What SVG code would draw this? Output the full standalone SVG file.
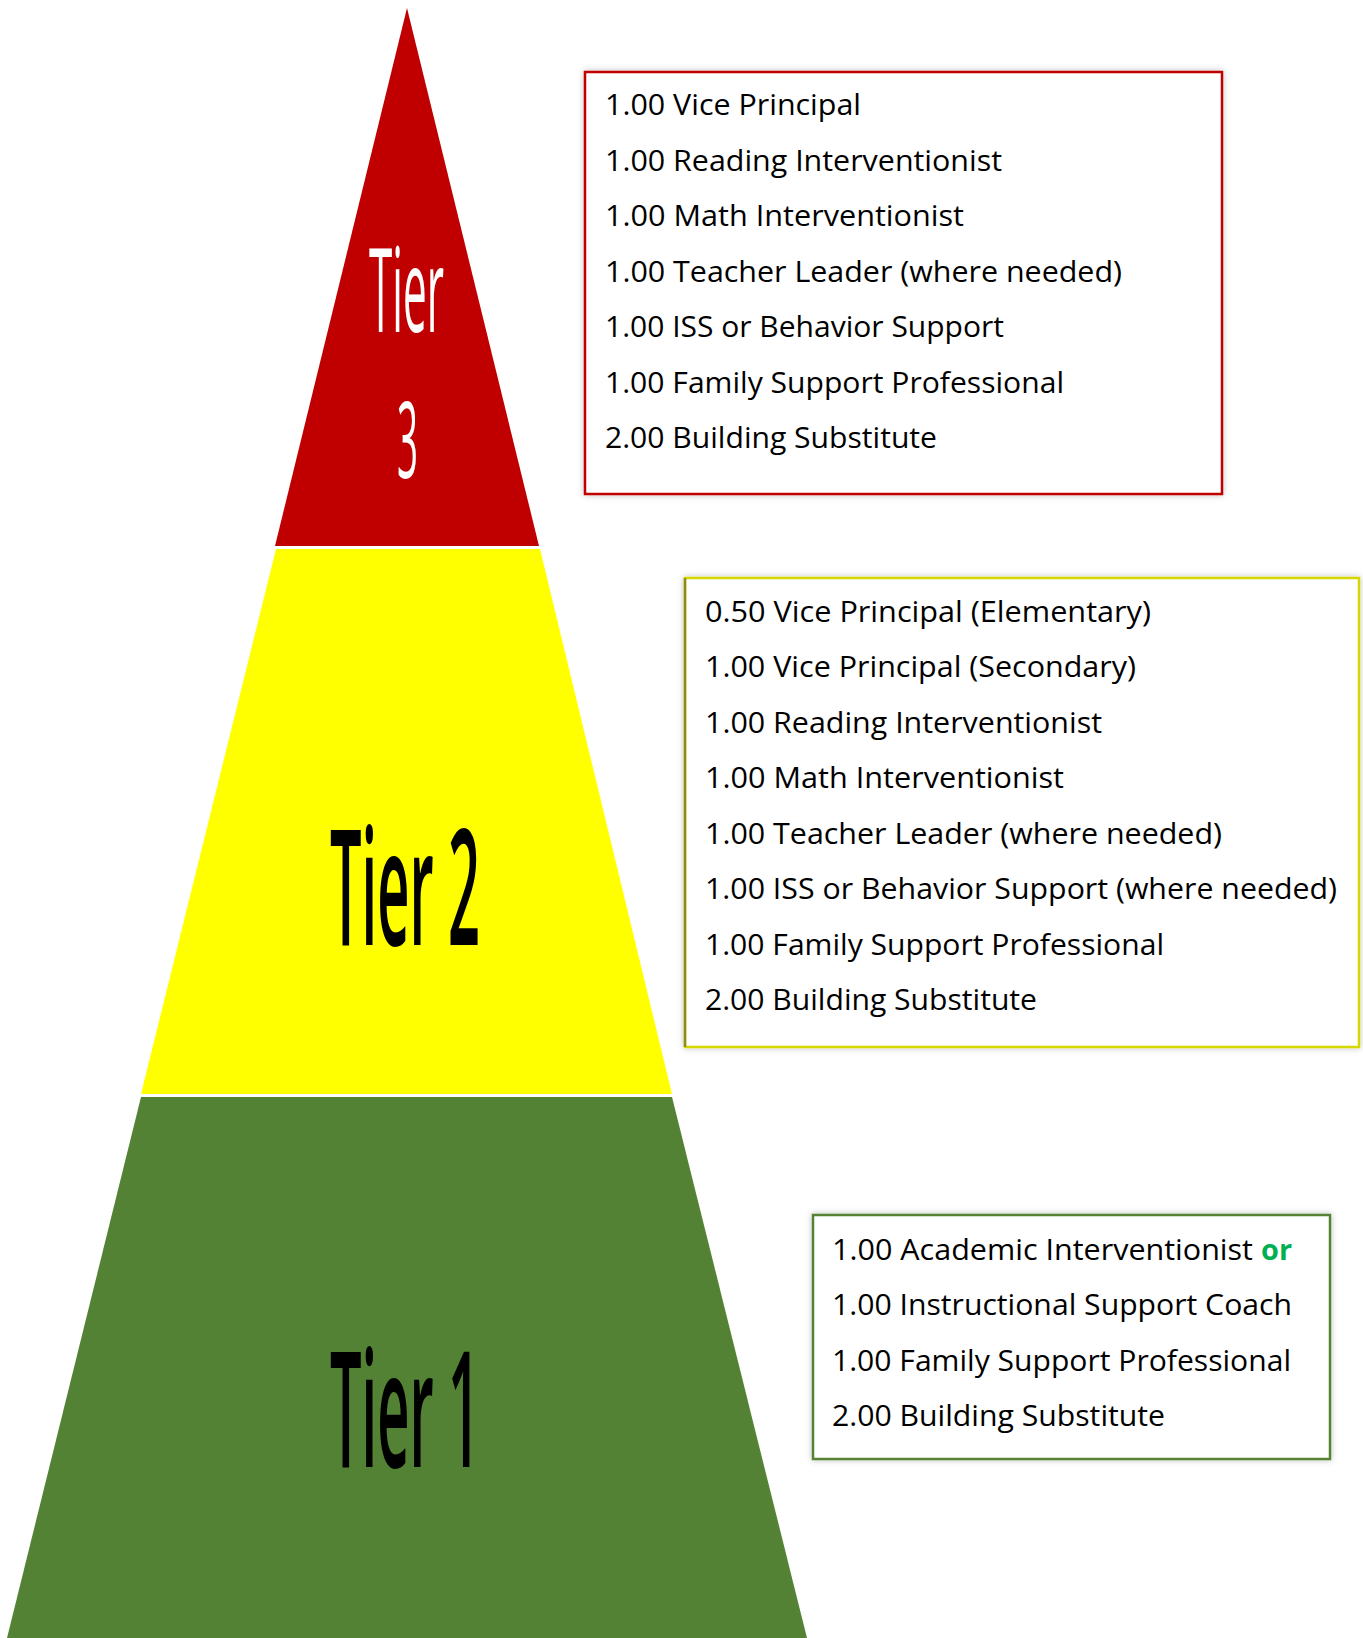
<svg xmlns="http://www.w3.org/2000/svg" width="1363" height="1638" viewBox="0 0 1363 1638">
<defs>
<style>
.item{font-family:"Open Sans","Liberation Sans",sans-serif;font-size:28.5px;fill:#000}
.tier{font-family:"Open Sans","Liberation Sans",sans-serif;text-anchor:start}
.t3{font-weight:normal;fill:#fff}
.t12{font-weight:600;fill:#000}
.box{fill:#fff;stroke-width:2.5}
</style>
<filter id="sh" x="-5%" y="-5%" width="110%" height="110%">
<feDropShadow dx="0" dy="0" stdDeviation="3" flood-color="#000" flood-opacity="0.25"/>
</filter>
</defs>
<rect width="1363" height="1638" fill="#fff"/>

<g id="tier3">
<polygon points="407,8 539,546 275,546" fill="#c00000"/>
<text class="tier t3" x="369" y="332" font-size="118" textLength="75" lengthAdjust="spacingAndGlyphs">Tier</text>
<text class="tier t3" x="397" y="478" font-size="106" textLength="21" lengthAdjust="spacingAndGlyphs">3</text>
</g>

<g id="tier2">
<polygon points="276,549 540,549 672,1094 141,1094" fill="#ffff00"/>
<text class="tier t12" x="330" y="945" font-size="161" textLength="150" lengthAdjust="spacingAndGlyphs">Tier 2</text>
</g>

<g id="tier1">
<polygon points="141,1097 672,1097 807,1638 7,1638" fill="#548235"/>
<text class="tier t12" x="330" y="1467" font-size="161" textLength="150" lengthAdjust="spacingAndGlyphs">Tier 1</text>
</g>

<g id="box3">
<rect class="box" x="585" y="72" width="637" height="422" stroke="#c00000" filter="url(#sh)"/>
<text class="item" x="605" y="115" textLength="256" lengthAdjust="spacingAndGlyphs">1.00 Vice Principal</text>
<text class="item" x="605" y="170.5" textLength="397" lengthAdjust="spacingAndGlyphs">1.00 Reading Interventionist</text>
<text class="item" x="605" y="226" textLength="359" lengthAdjust="spacingAndGlyphs">1.00 Math Interventionist</text>
<text class="item" x="605" y="281.5" textLength="517" lengthAdjust="spacingAndGlyphs">1.00 Teacher Leader (where needed)</text>
<text class="item" x="605" y="337" textLength="399" lengthAdjust="spacingAndGlyphs">1.00 ISS or Behavior Support</text>
<text class="item" x="605" y="392.5" textLength="459" lengthAdjust="spacingAndGlyphs">1.00 Family Support Professional</text>
<text class="item" x="605" y="448" textLength="332" lengthAdjust="spacingAndGlyphs">2.00 Building Substitute</text>
</g>

<g id="box2">
<rect class="box" x="685" y="578" width="674" height="469" stroke="#d6d600" filter="url(#sh)"/>
<line x1="685" y1="578" x2="685" y2="1047" stroke="#8c8c1a" stroke-width="2.5"/>
<text class="item" x="705" y="621.5" textLength="446" lengthAdjust="spacingAndGlyphs">0.50 Vice Principal (Elementary)</text>
<text class="item" x="705" y="677" textLength="431" lengthAdjust="spacingAndGlyphs">1.00 Vice Principal (Secondary)</text>
<text class="item" x="705" y="732.5" textLength="397" lengthAdjust="spacingAndGlyphs">1.00 Reading Interventionist</text>
<text class="item" x="705" y="788" textLength="359" lengthAdjust="spacingAndGlyphs">1.00 Math Interventionist</text>
<text class="item" x="705" y="843.5" textLength="517" lengthAdjust="spacingAndGlyphs">1.00 Teacher Leader (where needed)</text>
<text class="item" x="705" y="899" textLength="632" lengthAdjust="spacingAndGlyphs">1.00 ISS or Behavior Support (where needed)</text>
<text class="item" x="705" y="954.5" textLength="459" lengthAdjust="spacingAndGlyphs">1.00 Family Support Professional</text>
<text class="item" x="705" y="1010" textLength="332" lengthAdjust="spacingAndGlyphs">2.00 Building Substitute</text>
</g>

<g id="box1">
<rect class="box" x="813" y="1215" width="517" height="244" stroke="#548235" filter="url(#sh)"/>
<text class="item" x="832" y="1259.5" textLength="421" lengthAdjust="spacingAndGlyphs">1.00 Academic Interventionist</text>
<text class="item" x="1261" y="1259.5" style="fill:#00b050;font-weight:bold" textLength="31" lengthAdjust="spacingAndGlyphs">or</text>
<text class="item" x="832" y="1315" textLength="460" lengthAdjust="spacingAndGlyphs">1.00 Instructional Support Coach</text>
<text class="item" x="832" y="1370.5" textLength="459" lengthAdjust="spacingAndGlyphs">1.00 Family Support Professional</text>
<text class="item" x="832" y="1426" textLength="333" lengthAdjust="spacingAndGlyphs">2.00 Building Substitute</text>
</g>

<g id="connectors"></g>
</svg>
